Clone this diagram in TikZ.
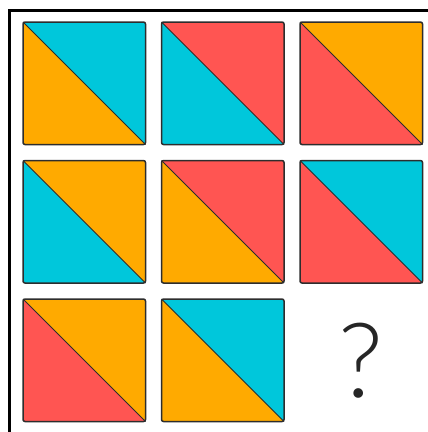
\documentclass[tikz,border=0pt]{standalone}
\usepackage{fontspec}
\newfontfamily\qfont{Lato Light}
\definecolor{tcyan}{RGB}{0,199,219}
\definecolor{torange}{RGB}{255,170,0}
\definecolor{tred}{RGB}{255,85,82}
\definecolor{edge}{RGB}{45,45,45}
% one tile: x, y (top left), colour upper right, colour lower left
\newcommand{\tile}[4]{%
  \fill[#4, rounded corners=2pt] (#1,#2) rectangle ++(122.5,122.5);
  \fill[#3, rounded corners=2pt] (#1,#2) -- ++(122.5,0) -- ++(0,122.5) -- cycle;
  \draw[diag] (#1,#2) -- ++(122.5,122.5);
  \draw[frame] (#1,#2) rectangle ++(122.5,122.5);}
\begin{document}
\begin{tikzpicture}[x=1pt, y=-1pt,
    frame/.style={draw=edge, line width=1.5pt, rounded corners=2pt},
    diag/.style={draw=edge, line width=0.8pt},
    qmark/.style={font=\qfont\fontsize{104}{104}\selectfont, text=black!85}]
  \useasboundingbox (0,0) rectangle (428,432);
  \clip (0,0) rectangle (428,432);
  % outer frame
  \draw[line width=3.5pt] (9.5,10.5) rectangle (450,450);
  % first row
  \tile{23}{22}{tcyan}{torange}
  \tile{161.5}{22}{tred}{tcyan}
  \tile{300}{22}{torange}{tred}
  % second row
  \tile{23}{160.5}{torange}{tcyan}
  \tile{161.5}{160.5}{tred}{torange}
  \tile{300}{160.5}{tcyan}{tred}
  % third row
  \tile{23}{299}{torange}{tred}
  \tile{161.5}{299}{tcyan}{torange}
  % missing tile
  \node[qmark] (q) at (361,361) {?};
\end{tikzpicture}
\end{document}
